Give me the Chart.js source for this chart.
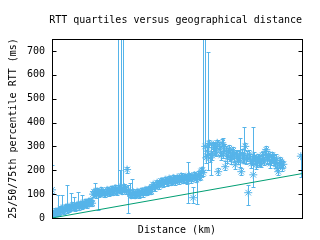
<!DOCTYPE html>
<html>
<head>
<meta charset="utf-8">
<script src="https://cdn.jsdelivr.net/npm/chart.js@4"></script>
<style>
  html, body { margin: 0; padding: 0; background: #fff; }
  canvas { display: block; }
</style>
</head>
<body>
<canvas id="rtt" width="320" height="240"></canvas>
<script>
// distance between probe pairs (km)
var dist = [0, 75, 224, 373, 447, 596, 745, 820, 969, 1118, 1192, 1341, 1416, 1565, 1639, 1788, 1937, 2086, 2235, 2384,
  2533, 2682, 2831, 2906, 3055, 3204, 3278, 3427, 3576, 3725, 3874, 4023, 4172, 4321, 4470, 4619, 4768, 4917, 5066, 5141,
  5290, 5439, 5588, 5662, 5811, 5960, 6109, 6258, 6407, 6556, 6705, 6854, 7003, 7152, 7301, 7450, 7599, 7748, 7897, 8046,
  8195, 8344, 8493, 8642, 8791, 8940, 9089, 9238, 9387, 9536, 9685, 9834, 9983, 10132, 10281, 10430, 10505, 10654, 10803, 10952,
  11101, 11250, 11399, 11473, 11622, 11771, 11846, 11995, 12144, 12293, 12367, 12516, 12665, 12740, 12889, 12963, 13112, 13261, 13410, 13559,
  13634, 13783, 13932, 14006, 14081, 14230, 14304, 14379, 14528, 14602, 14751, 14900, 14975, 15124, 15273, 15422, 15571, 15720, 15869, 15943,
  16018, 16167, 16316, 16465, 16614, 16763, 16837, 16986, 17135, 18513,
  149, 298, 522, 671, 894, 1043, 1267, 1490, 1714, 1863, 2012, 2161, 2310, 2459, 2608, 2757, 2980, 3129, 3353, 3502,
  3651, 3800, 3949, 4098, 4247, 4396, 4545, 4694, 4843, 4992, 5215, 5364, 5513, 5737, 5886, 6035, 6184, 6333, 6482, 6631,
  6780, 6929, 7078, 7227, 7376, 7525, 7674, 7823, 7972, 8121, 8270, 8419, 8568, 8717, 8866, 9015, 9164, 9313, 9462, 9611,
  9760, 9909, 10058, 10207, 10356, 10579, 10728, 10877, 11026, 11175,
  11548, 11697, 11920, 12069, 12218, 12442, 12591, 12814, 13038, 13187, 13336, 13485, 13708, 13857, 14155, 14453, 14677, 14826, 15049, 15198,
  15347, 15496, 15645, 15794, 16092, 16241, 16390, 16539, 16688, 16912, 17061, 17210];
// median RTT (ms)
var q50 = [118, 12, 25, 20, 30, 28, 38, 32, 40, 35, 45, 40, 48, 45, 50, 48, 52, 55, 50, 58,
  60, 62, 65, 70, 100, 105, 98, 108, 105, 110, 102, 108, 112, 110, 115, 118, 115, 120, 118, 122,
  125, 120, 203, 115, 100, 102, 98, 100, 105, 102, 108, 110, 112, 115, 118, 125, 135, 138, 142, 145,
  150, 148, 155, 152, 158, 155, 160, 158, 165, 162, 170, 165, 160, 165, 170, 168, 85, 172, 168, 175,
  195, 190, 300, 252, 305, 252, 270, 307, 290, 315, 194, 285, 315, 270, 215, 280, 277, 260, 270, 255,
  223, 258, 265, 236, 194, 255, 250, 300, 260, 106, 252, 240, 181, 245, 236, 240, 230, 250, 278, 286,
  245, 252, 240, 255, 230, 215, 194, 240, 210, 259,
  18, 28, 22, 40, 30, 45, 38, 52, 42, 55, 45, 60, 52, 65, 55, 70, 62, 110, 112, 100,
  115, 108, 100, 118, 105, 120, 108, 125, 110, 128, 112, 130, 115, 108, 95, 108, 95, 110, 98, 112,
  102, 118, 108, 122, 112, 140, 128, 148, 135, 155, 142, 160, 148, 165, 150, 168, 152, 170, 155, 175,
  158, 172, 155, 178, 160, 180, 162, 182, 170, 200,
  280, 312, 262, 295, 275, 305, 262, 298, 250, 290, 245, 282, 268, 242, 270, 245, 268, 228, 258, 222,
  252, 235, 262, 238, 265, 228, 262, 238, 250, 225, 232, 225];
// 25th percentile RTT (ms)
var q25 = [105, 3, 12, 8, 18, 15, 25, 20, 28, 22, 32, 28, 35, 32, 38, 35, 40, 42, 38, 45,
  48, 50, 52, 55, 88, 92, 85, 35, 92, 98, 90, 95, 100, 98, 102, 105, 102, 108, 105, 110,
  112, 108, 190, 22, 88, 90, 85, 88, 92, 90, 95, 98, 100, 102, 105, 112, 120, 125, 128, 132,
  138, 135, 142, 140, 145, 142, 148, 145, 150, 150, 155, 150, 148, 64, 158, 155, 64, 160, 60, 162,
  180, 175, 260, 230, 200, 235, 180, 290, 270, 300, 180, 260, 300, 250, 200, 260, 255, 240, 250, 235,
  205, 240, 245, 215, 180, 235, 230, 285, 240, 56, 230, 220, 131, 225, 215, 220, 212, 230, 255, 270,
  225, 230, 220, 235, 210, 200, 180, 220, 195, 173,
  8, 15, 12, 28, 18, 32, 25, 40, 30, 42, 32, 48, 40, 52, 42, 58, 50, 98, 100, 88,
  102, 95, 88, 105, 92, 108, 95, 112, 98, 115, 100, 118, 102, 95, 82, 95, 82, 98, 85, 100,
  90, 105, 95, 110, 100, 128, 115, 135, 122, 142, 130, 148, 135, 152, 138, 155, 140, 158, 142, 162,
  145, 160, 142, 165, 148, 168, 150, 170, 158, 188,
  262, 298, 245, 280, 258, 290, 245, 282, 232, 272, 228, 265, 250, 225, 252, 228, 250, 210, 240, 205,
  235, 218, 245, 220, 248, 210, 245, 220, 232, 208, 215, 208];
// 75th percentile RTT (ms)
var q75 = [224, 25, 40, 35, 97, 45, 97, 48, 55, 140, 60, 55, 106, 60, 90, 62, 111, 68, 97, 72,
  75, 78, 80, 85, 115, 148, 112, 120, 118, 122, 115, 120, 125, 122, 128, 130, 128, 800, 200, 800,
  800, 135, 215, 140, 148, 165, 112, 115, 118, 115, 120, 122, 125, 128, 132, 138, 150, 152, 155, 160,
  165, 162, 170, 168, 172, 170, 175, 172, 180, 178, 190, 182, 175, 236, 185, 182, 131, 188, 180, 190,
  210, 800, 800, 270, 697, 270, 315, 320, 315, 325, 210, 300, 330, 336, 240, 300, 295, 285, 290, 275,
  240, 280, 285, 336, 210, 275, 383, 315, 280, 140, 270, 260, 383, 262, 255, 258, 250, 268, 290, 300,
  262, 270, 260, 270, 248, 235, 210, 255, 225, 270,
  30, 42, 35, 52, 42, 58, 50, 65, 55, 68, 58, 72, 65, 78, 68, 82, 75, 122, 125, 112,
  128, 120, 112, 130, 118, 132, 120, 138, 122, 140, 125, 142, 128, 120, 108, 120, 108, 122, 110, 125,
  115, 130, 120, 135, 125, 152, 140, 160, 148, 168, 155, 172, 160, 178, 162, 180, 165, 182, 168, 188,
  170, 185, 168, 190, 172, 192, 175, 195, 182, 212,
  298, 325, 280, 310, 292, 318, 280, 312, 268, 305, 262, 298, 285, 258, 288, 262, 285, 245, 275, 240,
  268, 252, 278, 255, 282, 245, 278, 255, 268, 242, 248, 240];
var yTicks = [0, 100, 200, 300, 400, 500, 600, 700];
// speed-of-light-in-fibre bound
var fibreX = [0, 18600];
var fibreY = [0, 186];

var blue = '#56B4E9';
var green = '#009E73';
var mono = "'DejaVu Sans Mono', monospace";

var points = dist.map(function(d, i) { return { x: d, y: q50[i] }; });
var fibre = fibreX.map(function(d, i) { return { x: d, y: fibreY[i] }; });

var errorBars = {
  id: 'errorBars',
  beforeDatasetsDraw: function(chart) {
    var ctx = chart.ctx, a = chart.chartArea;
    var xs = chart.scales.x, ys = chart.scales.y;
    ctx.save();
    ctx.beginPath();
    ctx.rect(a.left, a.top, a.right - a.left, a.bottom - a.top);
    ctx.clip();
    ctx.strokeStyle = blue;
    ctx.lineWidth = 1;
    for (var i = 0; i < dist.length; i++) {
      var px = Math.round(xs.getPixelForValue(dist[i])) + 0.5;
      var lo = Math.round(ys.getPixelForValue(q25[i])) + 0.5;
      var hi = Math.round(ys.getPixelForValue(q75[i])) + 0.5;
      ctx.beginPath();
      ctx.moveTo(px, lo); ctx.lineTo(px, hi);
      ctx.moveTo(px - 2, lo); ctx.lineTo(px + 2, lo);
      ctx.moveTo(px - 2, hi); ctx.lineTo(px + 2, hi);
      ctx.stroke();
    }
    ctx.restore();
  }
};

var frame = {
  id: 'frame',
  afterDraw: function(chart) {
    var ctx = chart.ctx, a = chart.chartArea, ys = chart.scales.y;
    var l = Math.round(a.left) + 0.5, r = Math.round(a.right) + 0.5;
    var t = Math.round(a.top) + 0.5, b = Math.round(a.bottom) + 0.5;
    ctx.save();
    ctx.strokeStyle = '#000';
    ctx.lineWidth = 1;
    ctx.strokeRect(l, t, r - l, b - t);
    ctx.beginPath();
    yTicks.forEach(function(v) {
      var y = Math.round(ys.getPixelForValue(v)) + 0.5;
      ctx.moveTo(l, y); ctx.lineTo(l + 4, y);
      ctx.moveTo(r, y); ctx.lineTo(r - 4, y);
    });
    ctx.stroke();
    ctx.restore();
  }
};

new Chart(document.getElementById('rtt'), {
  type: 'scatter',
  data: {
    datasets: [{
      type: 'line',
      data: fibre,
      borderColor: green,
      borderWidth: 1,
      pointRadius: 0,
      fill: false
    }, {
      data: points,
      pointStyle: 'star',
      pointRadius: 4,
      borderColor: blue,
      backgroundColor: blue,
      borderWidth: 1
    }]
  },
  options: {
    responsive: false,
    animation: false,
    devicePixelRatio: 1,
    layout: { padding: { right: 18 } },
    plugins: {
      legend: { display: false },
      tooltip: { enabled: false },
      title: {
        display: true,
        text: 'RTT quartiles versus geographical distance',
        align: 'end',
        color: '#000',
        font: { family: mono, size: 10, weight: 'normal' },
        padding: { top: 14, bottom: 13 }
      }
    },
    scales: {
      x: {
        type: 'linear',
        min: 0,
        max: 18600,
        grid: { display: false, drawTicks: false },
        border: { display: false },
        ticks: { display: false },
        title: {
          display: true,
          text: 'Distance (km)',
          color: '#000',
          font: { family: mono, size: 10 },
          padding: { top: 4, bottom: 4 }
        },
        afterFit: function(s) { s.height = 22; }
      },
      y: {
        min: 0,
        max: 750,
        grid: { display: false, drawTicks: false },
        border: { display: false },
        afterBuildTicks: function(s) {
          s.ticks = yTicks.map(function(v) { return { value: v }; });
        },
        ticks: {
          color: '#000',
          padding: 7,
          font: { family: mono, size: 10 }
        },
        title: {
          display: true,
          text: '25/50/75th percentile RTT (ms)',
          color: '#000',
          font: { family: mono, size: 10 },
          padding: { top: 7, bottom: 0 }
        },
        afterFit: function(s) { s.width = 52; }
      }
    }
  },
  plugins: [errorBars, frame]
});
</script>
</body>
</html>
